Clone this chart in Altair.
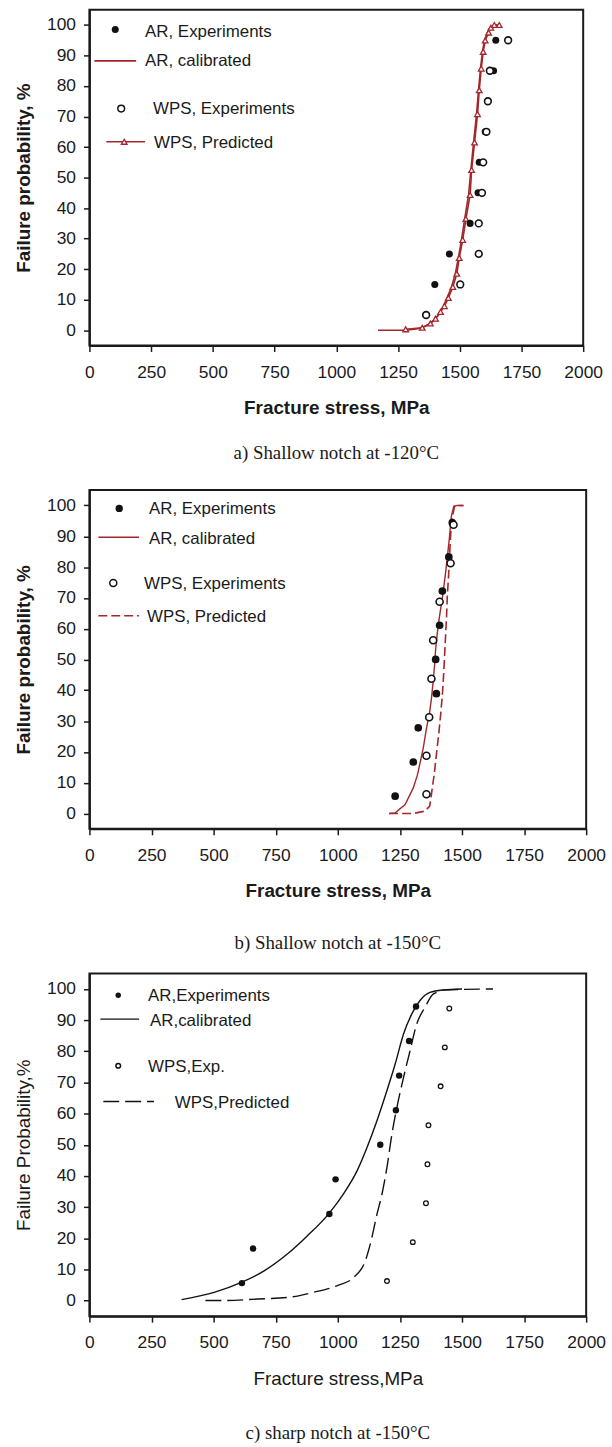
import altair as alt
import pandas as pd

RED = "#a3272b"
BLK = "#111111"
SANS = "Liberation Sans"
SERIF = "Liberation Serif"

# ---------------- Panel a: Shallow notch at -120C ----------------
a_levels = [5, 15, 25, 35, 45, 55, 65, 75, 85, 95]
a_ar_exp_x = [1362, 1399, 1458, 1542, 1574, 1579, 1603, 1614, 1637, 1646]
a_wps_exp_x = [1364, 1502, 1577, 1577, 1590, 1595, 1608, 1614, 1622, 1696]
a_ar_cal_x = [1169, 1282, 1330, 1365, 1392, 1414, 1432, 1448, 1466, 1482, 1494, 1507,
              1520, 1536, 1545, 1556, 1568, 1576, 1584, 1592, 1600, 1612, 1624, 1638, 1660]
a_ar_cal_p = [0, 0, 0.5, 1.5, 3, 5, 7.5, 10.5, 14, 18.5, 23.5, 29.5,
              36.5, 44.5, 52.5, 61.5, 70.8, 78.6, 85.7, 91.2, 94.9, 97.5, 99.1, 100, 100]
a_wps_pred_x = [1281, 1348, 1381, 1402, 1422, 1438, 1454, 1472, 1488, 1498, 1512, 1525,
                1542, 1548, 1560, 1572, 1579, 1587, 1595, 1603, 1617, 1626, 1640, 1660]
a_wps_pred_p = [0.3, 0.8, 2.2, 3.8, 6, 7.9, 10.6, 14.2, 18.5, 23.7, 29.6, 36.5,
                44.3, 52.5, 61.5, 70.8, 78.6, 85.7, 91.2, 94.9, 97.5, 99.1, 100, 100]

# ---------------- Panel b: Shallow notch at -150C ----------------
b_ar_levels = [5.6, 16.7, 27.8, 38.9, 50, 61.1, 72.2, 83.3, 94.4]
b_ar_exp_x = [1231, 1304, 1324, 1397, 1394, 1410, 1421, 1447, 1461]
b_wps_levels = [6.25, 18.75, 31.25, 43.75, 56.25, 68.75, 81.25, 93.75]
b_wps_exp_x = [1357, 1357, 1368, 1377, 1384, 1410, 1454, 1466]
b_ar_cal_x = [1207, 1231, 1271, 1304, 1321, 1344, 1357, 1370, 1377, 1384, 1390, 1394,
              1401, 1410, 1424, 1434, 1443, 1450, 1457, 1467, 1481, 1503]
b_ar_cal_p = [0, 0.2, 2.9, 8.3, 12.6, 21.2, 27.6, 33, 37.3, 42.7, 48.6, 53.4,
              58.8, 64.2, 71.7, 78.2, 84.6, 90, 96.4, 99.7, 100, 100]
b_wps_pred_x = [1207, 1305, 1351, 1370, 1377, 1388, 1397, 1406, 1414, 1421, 1426,
                1430, 1434, 1438, 1441, 1446, 1450, 1454, 1459, 1470, 1483, 1507]
b_wps_pred_p = [0, 0, 0.75, 2.4, 6.2, 12.6, 19.1, 25.5, 32, 38.4, 44.9,
                51.3, 57.8, 64.2, 70.7, 77.1, 83.6, 90, 95.4, 99.7, 100, 100]

# ---------------- Panel c: sharp notch at -150C ----------------
c_ar_levels = [5.6, 16.7, 27.8, 38.9, 50, 61.1, 72.2, 83.3, 94.4]
c_ar_exp_x = [614, 659, 966, 991, 1171, 1234, 1247, 1287, 1315]
c_wps_levels = [6.25, 18.75, 31.25, 43.75, 56.25, 68.75, 81.25, 93.75]
c_wps_exp_x = [1198, 1302, 1355, 1361, 1365, 1414, 1431, 1449]
c_ar_cal_x = [371, 505, 614, 705, 798, 878, 965, 1025, 1078, 1118, 1158, 1198,
              1231, 1265, 1298, 1331, 1371, 1425, 1500]
c_ar_cal_p = [0.3, 2.7, 5.9, 9.6, 15, 20.8, 28, 34.5, 41.7, 49.2, 57.8, 67.4,
              75.9, 85.6, 92, 96.3, 98.9, 99.7, 100]
c_wps_pred_x = [467, 545, 678, 798, 905, 998, 1065, 1111, 1131, 1158, 1178, 1198,
                1218, 1238, 1265, 1291, 1318, 1351, 1385, 1438, 1625]
c_wps_pred_p = [0, 0, 0.5, 1.0, 2.7, 4.8, 7.5, 12.8, 18.2, 27.8, 34.2, 42.8,
                53.5, 62, 71.7, 80.2, 88.8, 94.1, 98.4, 99.7, 100]

x_ticks = [0, 250, 500, 750, 1000, 1250, 1500, 1750, 2000]
y_ticks = [0, 10, 20, 30, 40, 50, 60, 70, 80, 90, 100]

one = alt.InlineData(values=[{"k": 0}])


def df(x, y):
    return pd.DataFrame({"stress": x, "prob": y})


def enc(xtitle, ytitle, bold):
    fw = "bold" if bold else "normal"
    fs = 19
    x = alt.X("stress:Q", scale=alt.Scale(domain=[0, 2000], nice=False),
              axis=alt.Axis(values=x_ticks, title=xtitle, titleFont=SANS, titleFontSize=fs,
                            titleFontWeight=fw, titleColor="#1a1a1a", titlePadding=18,
                            labelFont=SANS, labelFontSize=17.5, labelColor="#1a1a1a",
                            labelPadding=12, tickSize=6, tickColor="#1a1a1a", tickWidth=1.5,
                            domainColor="#1a1a1a", domainWidth=2, grid=False, format="d",
                            labelFlush=False, labelOverlap=False))
    y = alt.Y("prob:Q", scale=alt.Scale(domain=[-5, 105], nice=False),
              axis=alt.Axis(values=y_ticks, title=ytitle, titleFont=SANS, titleFontSize=fs,
                            titleFontWeight=fw, titleColor="#1a1a1a", titlePadding=13,
                            labelFont=SANS, labelFontSize=17.5, labelColor="#1a1a1a",
                            labelPadding=8, tickSize=6, tickColor="#1a1a1a", tickWidth=1.5,
                            domainColor="#1a1a1a", domainWidth=2, grid=False, format="d",
                            labelFlush=False, labelOverlap=False))
    return x, y


def legend_text(txt, px, py, size=17):
    return alt.Chart(one).mark_text(align="left", baseline="middle", font=SANS,
                                    fontSize=size, color="#1a1a1a").encode(
        x=alt.value(px), y=alt.value(py), text=alt.value(txt))


def legend_rule(x1, x2, py, color, dash=None, width=1.6):
    kw = dict(color=color, strokeWidth=width)
    if dash:
        kw["strokeDash"] = dash
    return alt.Chart(one).mark_rule(**kw).encode(x=alt.value(x1), x2=alt.value(x2), y=alt.value(py))


def legend_point(px, py, filled, size, shape="circle", color=BLK, sw=1.5):
    if filled:
        m = alt.Chart(one).mark_point(shape=shape, filled=True, size=size, color=color, opacity=1)
    else:
        m = alt.Chart(one).mark_point(shape=shape, filled=False, fill="white", fillOpacity=1,
                                      size=size, color=color, strokeWidth=sw, opacity=1)
    return m.encode(x=alt.value(px), y=alt.value(py))


def caption(t, off):
    return alt.TitleParams(text=t, orient="bottom", font=SERIF, fontSize=19, fontWeight="normal",
                           color="#1a1a1a", offset=off, anchor="middle")


# ---- Panel a
xa, ya = enc("Fracture stress, MPa", "Failure probability, %", True)
a_lines = [
    alt.Chart(df(a_ar_cal_x, a_ar_cal_p)).mark_line(color=RED, strokeWidth=1.6).encode(x=xa, y=ya),
    alt.Chart(df(a_wps_pred_x, a_wps_pred_p)).mark_line(color=RED, strokeWidth=1.6).encode(x=xa, y=ya),
    alt.Chart(df(a_wps_pred_x, a_wps_pred_p)).mark_point(shape="triangle-up", filled=False, fill="white",
                                                        fillOpacity=1, size=32, color=RED, strokeWidth=1.3,
                                                        opacity=1).encode(x=xa, y=ya),
    alt.Chart(df(a_ar_exp_x, a_levels)).mark_point(shape="circle", filled=True, size=50, color=BLK,
                                                   opacity=1).encode(x=xa, y=ya),
    alt.Chart(df(a_wps_exp_x, a_levels)).mark_point(shape="circle", filled=False, fill="white",
                                                    fillOpacity=1, size=46, color=BLK, strokeWidth=1.6,
                                                    opacity=1).encode(x=xa, y=ya),
]
a_leg = [
    legend_point(26, 20, True, 50),
    legend_text("AR, Experiments", 56, 22),
    legend_rule(5, 47, 51.5, RED),
    legend_text("AR, calibrated", 56, 51.5),
    legend_point(32, 99.5, False, 46),
    legend_text("WPS, Experiments", 64, 99.5),
    legend_rule(17, 56, 133, RED),
    legend_point(35, 133, False, 32, shape="triangle-up", color=RED, sw=1.3),
    legend_text("WPS, Predicted", 65, 134),
]
panel_a = alt.layer(*a_lines, *a_leg).properties(width=497, height=338,
                                                 title=caption("a) Shallow notch at -120°C", 27))

# ---- Panel b
xb, yb = enc("Fracture stress, MPa", "Failure probability, %", True)
b_layers = [
    alt.Chart(df(b_ar_cal_x, b_ar_cal_p)).mark_line(color=RED, strokeWidth=1.4).encode(x=xb, y=yb),
    alt.Chart(df(b_wps_pred_x, b_wps_pred_p)).mark_line(color=RED, strokeWidth=1.6,
                                                        strokeDash=[9, 4]).encode(x=xb, y=yb),
    alt.Chart(df(b_ar_exp_x, b_ar_levels)).mark_point(shape="circle", filled=True, size=60, color=BLK,
                                                      opacity=1).encode(x=xb, y=yb),
    alt.Chart(df(b_wps_exp_x, b_wps_levels)).mark_point(shape="circle", filled=False, fill="white",
                                                        fillOpacity=1, size=50, color=BLK, strokeWidth=1.6,
                                                        opacity=1).encode(x=xb, y=yb),
]
b_leg = [
    legend_point(30, 18.5, True, 55),
    legend_text("AR, Experiments", 60, 19.5),
    legend_rule(9, 50, 47.5, RED, width=1.4),
    legend_text("AR, calibrated", 60, 49),
    legend_point(24, 93.5, False, 50),
    legend_text("WPS, Experiments", 55, 94.5),
    legend_rule(9, 50, 126.5, RED, dash=[9, 4], width=1.6),
    legend_text("WPS, Predicted", 58, 127.5),
]
panel_b = alt.layer(*b_layers, *b_leg).properties(width=500, height=341,
                                                  title=caption("b) Shallow notch at -150°C", 33))

# ---- Panel c
xc, yc = enc("Fracture stress,MPa", "Failure Probability,%", False)
c_layers = [
    alt.Chart(df(c_ar_cal_x, c_ar_cal_p)).mark_line(color=BLK, strokeWidth=1.4,
                                                    interpolate="monotone").encode(x=xc, y=yc),
    alt.Chart(df(c_wps_pred_x, c_wps_pred_p)).mark_line(color=BLK, strokeWidth=1.4, strokeDash=[16, 6],
                                                        interpolate="monotone").encode(x=xc, y=yc),
    alt.Chart(df(c_ar_exp_x, c_ar_levels)).mark_point(shape="circle", filled=True, size=42, color=BLK,
                                                      opacity=1).encode(x=xc, y=yc),
    alt.Chart(df(c_wps_exp_x, c_wps_levels)).mark_point(shape="circle", filled=False, fill="white",
                                                        fillOpacity=1, size=22, color=BLK, strokeWidth=1.3,
                                                        opacity=1).encode(x=xc, y=yc),
]
c_leg = [
    legend_point(29, 22, True, 30),
    legend_text("AR,Experiments", 59, 22.5),
    legend_rule(11, 50, 46, BLK, width=1.4),
    legend_text("AR,calibrated", 61, 47.5),
    legend_point(29, 93, False, 22),
    legend_text("WPS,Exp.", 59, 94),
    legend_rule(14, 65, 129, BLK, dash=[16, 6], width=1.4),
    legend_text("WPS,Predicted", 86, 130),
]
panel_c = alt.layer(*c_layers, *c_leg).properties(width=500, height=345,
                                                  title=caption("c) sharp notch at -150°C", 36))

chart = alt.vconcat(panel_a, panel_b, panel_c, spacing=145.5, bounds="flush").properties(
    padding={"left": 13, "top": 4, "right": 5, "bottom": 5},
    background="white"
).configure_view(stroke="#1a1a1a", strokeWidth=2)

chart.save("out.html", embed_options={"renderer": "svg", "actions": False})
